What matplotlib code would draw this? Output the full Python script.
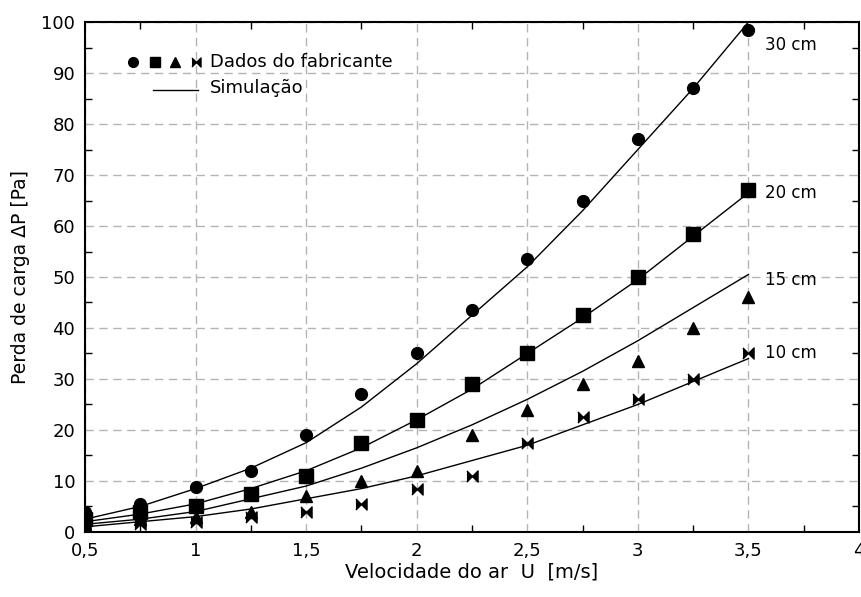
import numpy as np
import matplotlib
matplotlib.use("Agg")
import matplotlib.pyplot as plt

plt.rcParams['font.family'] = ['DejaVu Sans']

# Velocities [m/s]
u = [0.5, 0.75, 1.0, 1.25, 1.5, 1.75, 2.0, 2.25, 2.5, 2.75, 3.0, 3.25, 3.5]

# Manufacturer data [Pa]
dados_30 = [4, 5.5, 8.8, 12, 19, 27, 35, 43.5, 53.5, 65, 77, 87, 98.5]
dados_20 = [2.5, 4, 5, 7.5, 11, 17.5, 22, 29, 35, 42.5, 50, 58.5, 67]
dados_15 = [1.5, 2.5, 3, 4, 7, 10, 12, 19, 24, 29, 33.5, 40, 46]
dados_10 = [1, 1.5, 2, 3, 4, 5.5, 8.5, 11, 17.5, 22.5, 26, 30, 35]

# Simulation [Pa]
sim_30 = [2.5, 5, 8.5, 12.5, 17.5, 24.5, 33, 42.5, 52, 63, 75, 87, 100]
sim_20 = [2, 3.5, 5.5, 8.5, 12, 16.5, 22, 28, 35, 42, 49.5, 58, 66.5]
sim_15 = [1.5, 2.5, 4, 6.5, 9, 12.5, 16.5, 21, 26, 31.5, 37.5, 44, 50.5]
sim_10 = [1, 2, 3, 4.5, 6.5, 8.5, 11, 14, 17, 21, 25, 29.5, 34]

labels = ["30 cm", "20 cm", "15 cm", "10 cm"]
label_y = [95.5, 66.5, 49.5, 35]

xticks = [0.5, 1, 1.5, 2, 2.5, 3, 3.5, 4]
xticklabels = ["0,5", "1", "1,5", "2", "2,5", "3", "3,5", "4"]
yticks = [0, 10, 20, 30, 40, 50, 60, 70, 80, 90, 100]

bowtie = [(-1, 1), (0, 0), (1, 1), (1, -1), (0, 0), (-1, -1)]

fig = plt.figure(figsize=(8.62, 5.97), dpi=100)
ax = fig.add_axes([0.0986, 0.109, 0.8979, 0.854])

for s in [sim_30, sim_20, sim_15, sim_10]:
    ax.plot(u, s, color='black', lw=1.0, zorder=3)

ax.plot(u, dados_30, 'o', color='black', ms=8.5, ls='none', zorder=4)
ax.plot(u, dados_20, 's', color='black', ms=9.5, ls='none', zorder=4)
ax.plot(u, dados_15, '^', color='black', ms=8.5, ls='none', zorder=4)
ax.plot(u, dados_10, marker=bowtie, color='black', ms=8, ls='none', zorder=4)

for lab, yy in zip(labels, label_y):
    ax.text(3.575, yy, lab, fontsize=12, va='center', ha='left')

ax.set_xlim(0.5, 4)
ax.set_ylim(0, 100)
ax.set_xticks(xticks)
ax.set_xticklabels(xticklabels)
ax.set_yticks(yticks)
ax.set_xticks(np.arange(0.75, 4, 0.5), minor=True)
ax.set_yticks(np.arange(5, 100, 10), minor=True)
ax.tick_params(axis='both', which='major', labelsize=13, length=0, pad=7)
ax.tick_params(axis='both', which='minor', direction='in', length=5,
               top=True, right=True, width=1)
ax.grid(True, which='major', color='#b4b4b4', ls=(0, (6, 4)), lw=1.0)
for sp in ax.spines.values():
    sp.set_linewidth(1.5)

ax.set_xlabel("Velocidade do ar  U  [m/s]", fontsize=14, labelpad=2)
ax.set_ylabel("Perda de carga ΔP [Pa]", fontsize=13.5, labelpad=8)

# Legend (drawn manually in axes coordinates)
leg_y1, leg_y2 = 0.9216, 0.8667
leg_kw = dict(color='black', ls='none', transform=ax.transAxes, clip_on=False)
ax.plot([0.062], [leg_y1], marker='o', ms=7, **leg_kw)
ax.plot([0.091], [leg_y1], marker='s', ms=7.5, **leg_kw)
ax.plot([0.116], [leg_y1], marker='^', ms=7, **leg_kw)
ax.plot([0.143], [leg_y1], marker=bowtie, ms=6.5, **leg_kw)
ax.plot([0.088, 0.146], [leg_y2, leg_y2], color='black', lw=1.0,
        transform=ax.transAxes)
ax.text(0.161, leg_y1, "Dados do fabricante", fontsize=13, va='center',
        ha='left', transform=ax.transAxes)
ax.text(0.161, leg_y2 + 0.004, "Simulação", fontsize=13, va='center',
        ha='left', transform=ax.transAxes)

fig.savefig("out.png", dpi=100)
